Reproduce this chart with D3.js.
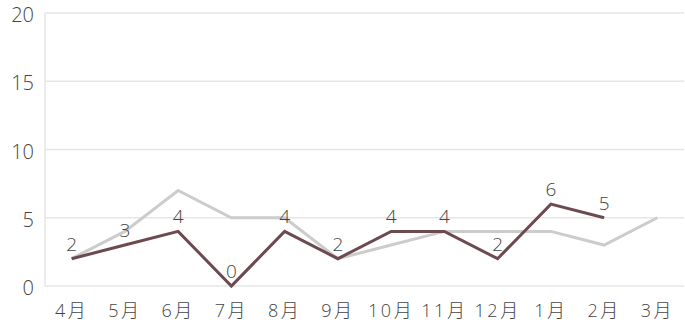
<!DOCTYPE html>
<html><head><meta charset="utf-8">
<script src="https://cdn.jsdelivr.net/npm/d3@7"></script>
<style>body{margin:0;background:#fff;}svg{display:block;font-family:"Open Sans","Noto Sans CJK JP",sans-serif;font-weight:300;}</style>
</head><body><svg id="c" width="685" height="330"></svg>
<script>
const categories = ["4月","5月","6月","7月","8月","9月","10月","11月","12月","1月","2月","3月"];
const seriesPrev = [2,4,7,5,5,2,3,4,4,4,3,5];
const seriesCurr = [2,3,4,0,4,2,4,4,2,6,5,null];
const yTicks = [0,5,10,15,20];

const svg = d3.select("#c");
const m = {l:45, r:684, t:13, b:286};
const x = d3.scalePoint().domain(categories).range([m.l, m.r]).padding(0.5);
const y = d3.scaleLinear().domain([0,20]).range([m.b, m.t]);
const textColor = "#444";

// grid
svg.append("g").selectAll("line").data(yTicks).join("line")
  .attr("x1", m.l).attr("x2", m.r).attr("y1", d=>y(d)).attr("y2", d=>y(d))
  .attr("stroke", "#e6e6e6").attr("stroke-width", 1.5);
svg.append("line").attr("x1", m.l).attr("x2", m.l).attr("y1", m.t).attr("y2", m.b)
  .attr("stroke", "#e6e6e6").attr("stroke-width", 1.5);

// y labels
svg.append("g").selectAll("text").data(yTicks).join("text")
  .attr("x", 34).attr("y", d=>y(d)+2).attr("dy", "0.36em").attr("text-anchor","end")
  .attr("fill", textColor).attr("font-size", 20).text(d=>d);

// x labels
svg.append("g").selectAll("text").data(categories).join("text")
  .attr("x", d=>x(d)).attr("y", 317).attr("text-anchor","middle")
  .attr("fill", textColor).attr("font-size", 18).attr("letter-spacing", 2.5).text(d=>d);

const line = d3.line().defined(d=>d.v!==null).x(d=>x(d.c)).y(d=>y(d.v));
const mk = arr => categories.map((c,i)=>({c, v:arr[i]}));

svg.append("path").datum(mk(seriesPrev)).attr("d", line).attr("fill","none")
  .attr("stroke","#cccccc").attr("stroke-width",3).attr("stroke-linejoin","miter");
svg.append("path").datum(mk(seriesCurr)).attr("d", line).attr("fill","none")
  .attr("stroke","#6d4a50").attr("stroke-width",3).attr("stroke-linejoin","miter");

svg.append("g").selectAll("text").data(mk(seriesCurr).filter(d=>d.v!==null)).join("text")
  .attr("x", d=>x(d.c)).attr("y", d=>y(d.v)-8).attr("text-anchor","middle")
  .attr("fill", textColor).attr("font-size", 19).text(d=>d.v);
</script></body></html>
